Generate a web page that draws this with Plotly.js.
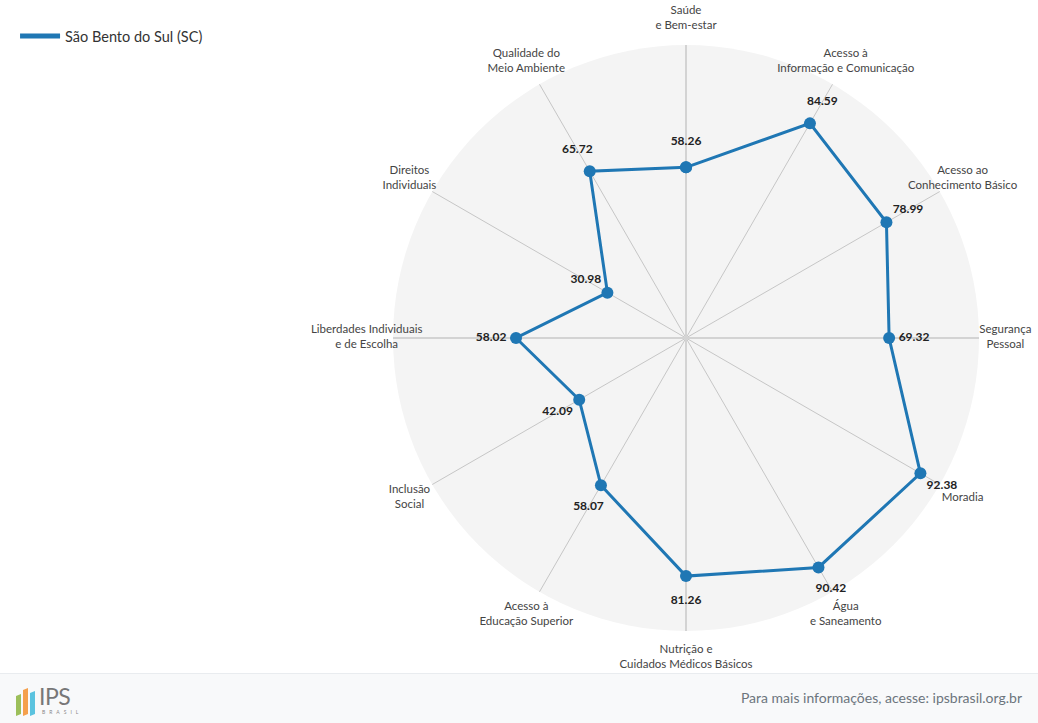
<!DOCTYPE html>
<html>
<head>
<meta charset="utf-8">
<script src="https://cdn.plot.ly/plotly-3.0.1.min.js"></script>
<style>
  html, body { margin: 0; padding: 0; background: #fff; font-family: Lato, sans-serif; }
  #chart { width: 1038px; height: 673px; }
  #footer {
    width: 1038px; height: 49px; background: #f8f9fa; border-top: 1px solid #e9ecef;
    position: relative; box-sizing: content-box;
  }
  #logo { position: absolute; left: 16px; top: 11px; width: 70px; height: 30px; }
  .bar { position: absolute; bottom: 0; width: 5px; }
  #logo .ips { position: absolute; left: 23px; top: 2px; font-size: 23px; line-height: 18px; color: #777; font-weight: 400; letter-spacing: -0.5px; }
  #logo .br { position: absolute; left: 26px; top: 24px; font-size: 5px; line-height: 6px; color: #888; letter-spacing: 4px; }
  #info { position: absolute; right: 16px; top: 15px; font-size: 14px; color: #6c757d; }
</style>
</head>
<body>
<div id="chart"></div>
<div id="footer">
  <div id="logo">
    <div class="bar" style="left:0;height:20px;background:#9cbf5a;transform:skewY(-20deg);"></div>
    <div class="bar" style="left:7px;height:26px;background:#f5a04c;transform:skewY(-20deg);"></div>
    <div class="bar" style="left:14px;height:23px;background:#5bc3df;transform:skewY(-20deg);"></div>
    <span class="ips">IPS</span>
    <span class="br">BRASIL</span>
  </div>
  <div id="info">Para mais informações, acesse: ipsbrasil.org.br</div>
</div>
<script>
// Dimensões do IPS, sentido horário a partir do topo
const categories = [
  "Saúde<br>e Bem-estar",
  "Acesso à<br>Informação e Comunicação",
  "Acesso ao<br>Conhecimento Básico",
  "Segurança<br>Pessoal",
  "Moradia",
  "Água<br>e Saneamento",
  "Nutrição e<br>Cuidados Médicos Básicos",
  "Acesso à<br>Educação Superior",
  "Inclusão<br>Social",
  "Liberdades Individuais<br>e de Escolha",
  "Direitos<br>Individuais",
  "Qualidade do<br>Meio Ambiente"
];
const values = [58.26, 84.59, 78.99, 69.32, 92.38, 90.42, 81.26, 58.07, 42.09, 58.02, 30.98, 65.72];
const seriesName = "São Bento do Sul (SC)";
const labelRadius = 109;   // nomes das dimensões, fora do círculo
const valueOffset = 8.5;   // rótulo do valor, um pouco além do ponto

// fecha o polígono
const thetaClosed = categories.concat([categories[0]]);
const rClosed = values.concat([values[0]]);

// área do círculo principal e do círculo (maior) dos rótulos
const domain = { x: [0.3786, 0.9432], y: [0.0624, 0.9331] };
function grow(range, k) {
  const c = (range[0] + range[1]) / 2, h = (range[1] - range[0]) / 2 * k;
  return [c - h, c + h];
}
const labelDomain = { x: grow(domain.x, labelRadius / 100), y: grow(domain.y, labelRadius / 100) };

const angular = {
  type: 'category',
  categoryarray: categories,
  direction: 'clockwise',
  rotation: 90,
  showline: false,
  ticks: '',
  showticklabels: false
};

const traces = [
  {
    // traço invisível para montar o eixo de fundo
    type: 'scatterpolar',
    subplot: 'polar',
    r: values,
    theta: categories,
    mode: 'markers',
    marker: { opacity: 0 },
    hoverinfo: 'skip',
    showlegend: false
  },
  {
    type: 'scatterpolar',
    subplot: 'polar2',
    name: seriesName,
    r: rClosed,
    theta: thetaClosed,
    mode: 'lines+markers',
    line: { color: '#1f77b4', width: 3 },
    marker: { color: '#1f77b4', size: 12 },
    showlegend: false,
    hovertemplate: '%{theta}: %{r:.2f}<extra></extra>'
  },
  {
    // entrada da legenda (só a linha)
    type: 'scatterpolar',
    subplot: 'polar2',
    name: seriesName,
    r: [values[0]],
    theta: [categories[0]],
    mode: 'lines',
    line: { color: '#1f77b4', width: 5 },
    hoverinfo: 'skip',
    showlegend: true
  },
  {
    // valores, na direção radial, logo além de cada ponto
    type: 'scatterpolar',
    subplot: 'polar3',
    r: values.map(v => v + valueOffset),
    theta: categories,
    mode: 'text',
    text: values.map(v => v.toFixed(2)),
    textposition: 'middle center',
    textfont: { family: 'Lato', size: 12, color: '#222', weight: 'bold' },
    cliponaxis: false,
    hoverinfo: 'skip',
    showlegend: false
  },
  {
    // nomes das dimensões, centralizados fora do círculo
    type: 'scatterpolar',
    subplot: 'polar3',
    r: categories.map(() => labelRadius),
    theta: categories,
    mode: 'text',
    text: categories,
    textposition: 'middle center',
    textfont: { family: 'Lato', size: 11.5, color: '#444' },
    cliponaxis: false,
    hoverinfo: 'skip',
    showlegend: false
  }
];

const layout = {
  width: 1038,
  height: 673,
  margin: { l: 0, r: 0, t: 0, b: 0 },
  paper_bgcolor: '#fff',
  font: { family: 'Lato, sans-serif', color: '#444', size: 11.5 },
  showlegend: true,
  legend: {
    x: 0.0145, y: 0.97, xanchor: 'left', yanchor: 'top',
    itemwidth: 40,
    font: { size: 14.5, color: '#333' }
  },
  polar: {
    domain: domain,
    bgcolor: '#f4f4f4',
    radialaxis: { range: [0, 100], visible: false },
    angularaxis: Object.assign({}, angular, { showgrid: true, gridcolor: '#c6c6c6', gridwidth: 1 })
  },
  polar2: {
    domain: domain,
    bgcolor: 'rgba(0,0,0,0)',
    radialaxis: { range: [0, 100], visible: false },
    angularaxis: Object.assign({}, angular, {
      tickmode: 'array',
      tickvals: [categories[0], categories[3], categories[6], categories[9]],
      showgrid: true, gridcolor: '#d3d3d3', gridwidth: 2
    })
  },
  polar3: {
    domain: labelDomain,
    bgcolor: 'rgba(0,0,0,0)',
    radialaxis: { range: [0, labelRadius], visible: false },
    angularaxis: Object.assign({}, angular, { showgrid: false })
  }
};

Plotly.newPlot('chart', traces, layout, { displayModeBar: false, responsive: false });
</script>
</body>
</html>
